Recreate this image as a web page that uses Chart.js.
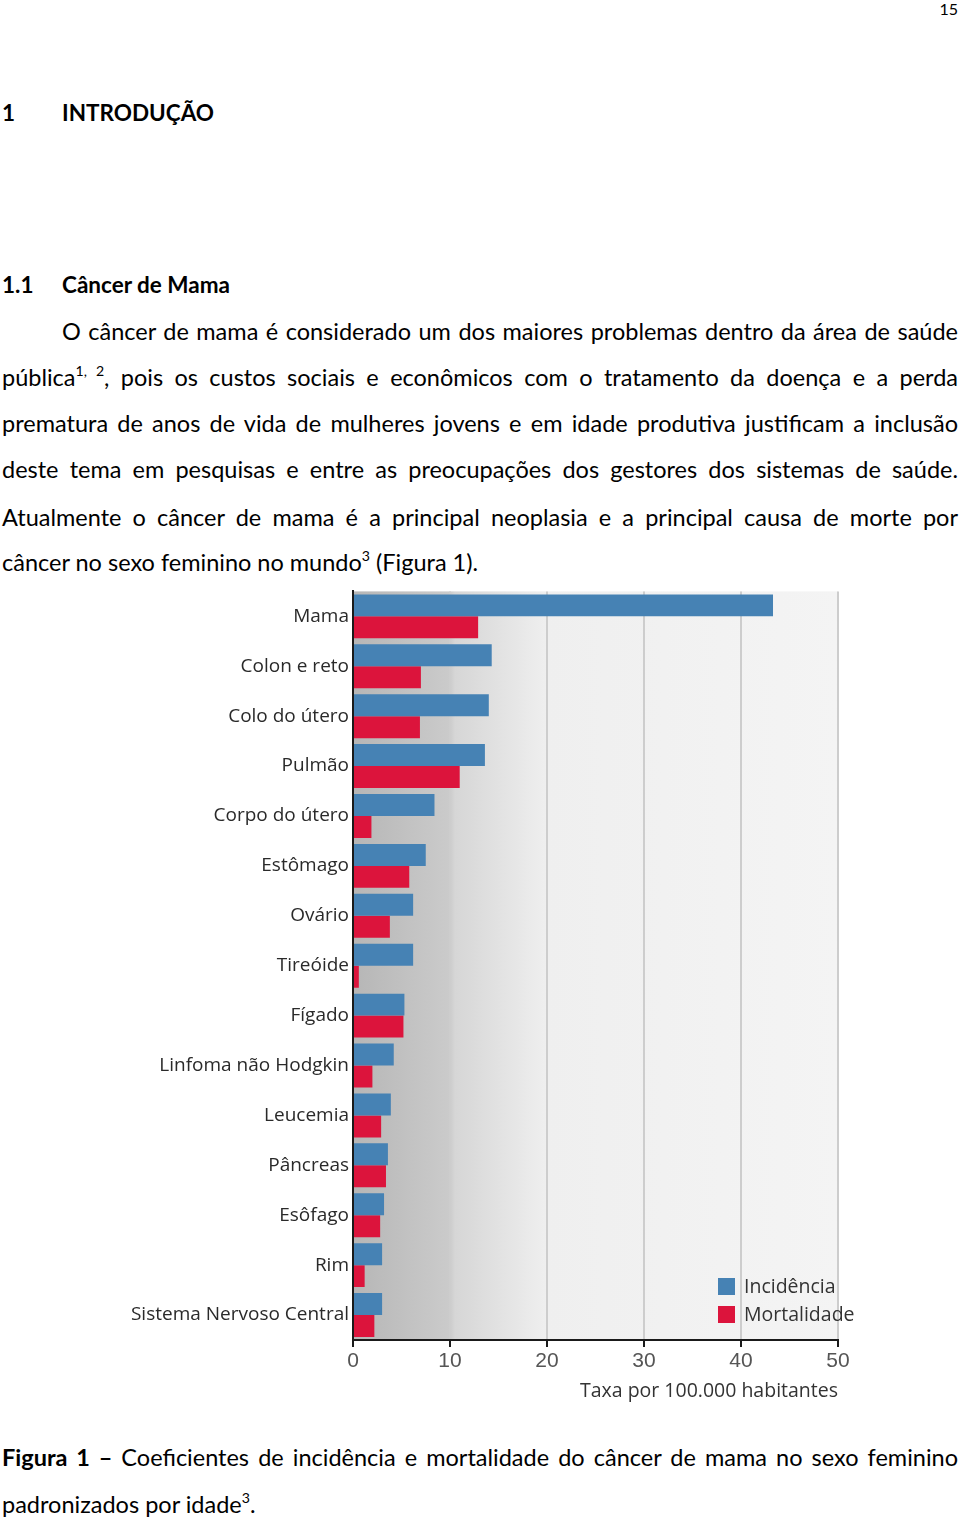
<!DOCTYPE html>
<html lang="pt">
<head>
  <meta charset="UTF-8">
  <title>Figura 1</title>
  <script src="https://cdn.jsdelivr.net/npm/chart.js"></script>
  <style>
    body {
      margin: 0;
      width: 960px;
      height: 1519px;
      background: #fff;
      position: relative;
      font-family: Lato, "Open Sans", sans-serif;
      color: #000;
      overflow: hidden;
    }
    .ln {
      position: absolute;
      left: 2px;
      width: 956px;
      height: 46px;
      line-height: 46px;
      font-size: 23.5px;
      white-space: nowrap;
    }
    .just {
      text-align: justify;
      text-align-last: justify;
    }
    sup {
      font-size: 0.6em;
      line-height: 0;
      vertical-align: 0.7em;
    }
    .head {
      position: absolute;
      font-weight: bold;
      font-size: 22.5px;
      line-height: 30px;
    }
    #pagenum {
      position: absolute;
      right: 2px;
      top: 0;
      font-size: 16px;
      line-height: 18px;
    }
    #chartBox {
      position: absolute;
      left: 0;
      top: 576px;
      width: 960px;
      height: 834px;
    }
    .leg {
      position: absolute;
      font-family: "Open Sans", sans-serif;
      font-size: 19.5px;
      color: #333;
      line-height: 20px;
    }
    .sw {
      position: absolute;
      width: 17px;
      height: 17px;
    }
  </style>
</head>
<body>
  <div id="pagenum">15</div>

  <div class="head" style="left:2px; top:98px;">1</div>
  <div class="head" style="left:62px; top:98px;">INTRODUÇÃO</div>

  <div class="head" style="left:2px; top:270px;">1.1</div>
  <div class="head" style="left:62px; top:270px;">Câncer de Mama</div>

  <!-- paragraph, one div per line so breaks match -->
  <div class="ln just" style="top:308px; left:62px; width:896px;">O câncer de mama é considerado um dos maiores problemas dentro da área de saúde</div>
  <div class="ln just" style="top:354px;">pública<sup>1, 2</sup>, pois os custos sociais e econômicos com o tratamento da doença e a perda</div>
  <div class="ln just" style="top:400px;">prematura de anos de vida de mulheres jovens e em idade produtiva justificam a inclusão</div>
  <div class="ln just" style="top:446px;">deste tema em pesquisas e entre as preocupações dos gestores dos sistemas de saúde.</div>
  <div class="ln just" style="top:494px;">Atualmente o câncer de mama é a principal neoplasia e a principal causa de morte por</div>
  <div class="ln" style="top:539px;">câncer no sexo feminino no mundo<sup>3</sup> (Figura 1).</div>

  <div id="chartBox">
    <canvas id="barChart"></canvas>
  </div>
  <div id="legend"></div>

  <div class="ln just" style="top:1434px;"><b>Figura 1 –</b> Coeficientes de incidência e mortalidade do câncer de mama no sexo feminino</div>
  <div class="ln" style="top:1481px;">padronizados por idade<sup>3</sup>.</div>

  <script>
    // values (taxa por 100.000 habitantes)
    const categories = [
      'Mama', 'Colon e reto', 'Colo do útero', 'Pulmão', 'Corpo do útero',
      'Estômago', 'Ovário', 'Tireóide', 'Fígado', 'Linfoma não Hodgkin',
      'Leucemia', 'Pâncreas', 'Esôfago', 'Rim', 'Sistema Nervoso Central'
    ];
    const incidencia = [43.3, 14.3, 14.0, 13.6, 8.4, 7.5, 6.2, 6.2, 5.3, 4.2, 3.9, 3.6, 3.2, 3.0, 3.0];
    const mortalidade = [12.9, 7.0, 6.9, 11.0, 1.9, 5.8, 3.8, 0.6, 5.2, 2.0, 2.9, 3.4, 2.8, 1.2, 2.2];
    const xTicks = [0, 10, 20, 30, 40, 50];
    const seriesNames = ['Incidência', 'Mortalidade'];
    const seriesColors = ['#4682b4', '#dc143c'];

    // grey gradient behind the plot area
    const plotBackground = {
      id: 'plotBackground',
      beforeDraw(chart) {
        const { ctx, chartArea: a } = chart;
        const g = ctx.createLinearGradient(a.left, 0, a.right, 0);
        g.addColorStop(0, '#b6b6b6');
        g.addColorStop(0.2, '#cbcbcb');
        g.addColorStop(0.21, '#d6d6d6');
        g.addColorStop(0.4, '#efefef');
        g.addColorStop(1, '#f4f4f4');
        ctx.save();
        ctx.fillStyle = g;
        ctx.fillRect(a.left, a.top, a.right - a.left, a.bottom - a.top);
        ctx.restore();
      }
    };

    const barChart = new Chart(document.getElementById('barChart'), {
      type: 'bar',
      data: {
        labels: categories,
        datasets: [
          {
            label: seriesNames[0],
            data: incidencia,
            backgroundColor: seriesColors[0]
          },
          {
            label: seriesNames[1],
            data: mortalidade,
            backgroundColor: seriesColors[1]
          }
        ]
      },
      options: {
        indexAxis: 'y',
        responsive: true,
        maintainAspectRatio: false,
        animation: false,
        layout: {
          padding: { top: 10, right: 122, left: 0, bottom: 0 }
        },
        datasets: {
          bar: { categoryPercentage: 0.88, barPercentage: 1.0 }
        },
        plugins: {
          legend: { display: false },
          tooltip: { enabled: false }
        },
        scales: {
          x: {
            min: 0,
            max: 50,
            afterBuildTicks(scale) {
              scale.ticks = xTicks.map(v => ({ value: v }));
            },
            afterFit(scale) {
              scale.height = 70;
            },
            border: { color: '#1a1a1a', width: 2 },
            grid: {
              color: '#cdcdcd',
              lineWidth: 2,
              tickColor: '#1a1a1a',
              tickLength: 7
            },
            ticks: {
              padding: 2,
              color: '#555',
              font: { family: 'Liberation Sans', size: 21 }
            },
            title: {
              display: true,
              text: 'Taxa por 100.000 habitantes',
              align: 'end',
              color: '#333',
              font: { family: 'Open Sans', size: 19.5 },
              padding: { top: 0, bottom: 7 }
            }
          },
          y: {
            afterFit(scale) {
              scale.width = 353;
            },
            border: { color: '#1a1a1a', width: 2 },
            grid: { display: false, drawTicks: false },
            ticks: {
              padding: 4,
              color: '#2a2a2a',
              font: { family: 'Open Sans', size: 19 }
            }
          }
        }
      },
      plugins: [plotBackground]
    });

    // legend in the lower right corner of the plot
    const legend = document.getElementById('legend');
    barChart.data.datasets.forEach((ds, i) => {
      const top = 1278 + i * 28;
      const sw = document.createElement('div');
      sw.className = 'sw';
      sw.style.left = '718px';
      sw.style.top = top + 'px';
      sw.style.background = ds.backgroundColor;
      legend.appendChild(sw);
      const tx = document.createElement('div');
      tx.className = 'leg';
      tx.style.left = '744px';
      tx.style.top = (top - 2) + 'px';
      tx.textContent = ds.label;
      legend.appendChild(tx);
    });
  </script>
</body>
</html>
